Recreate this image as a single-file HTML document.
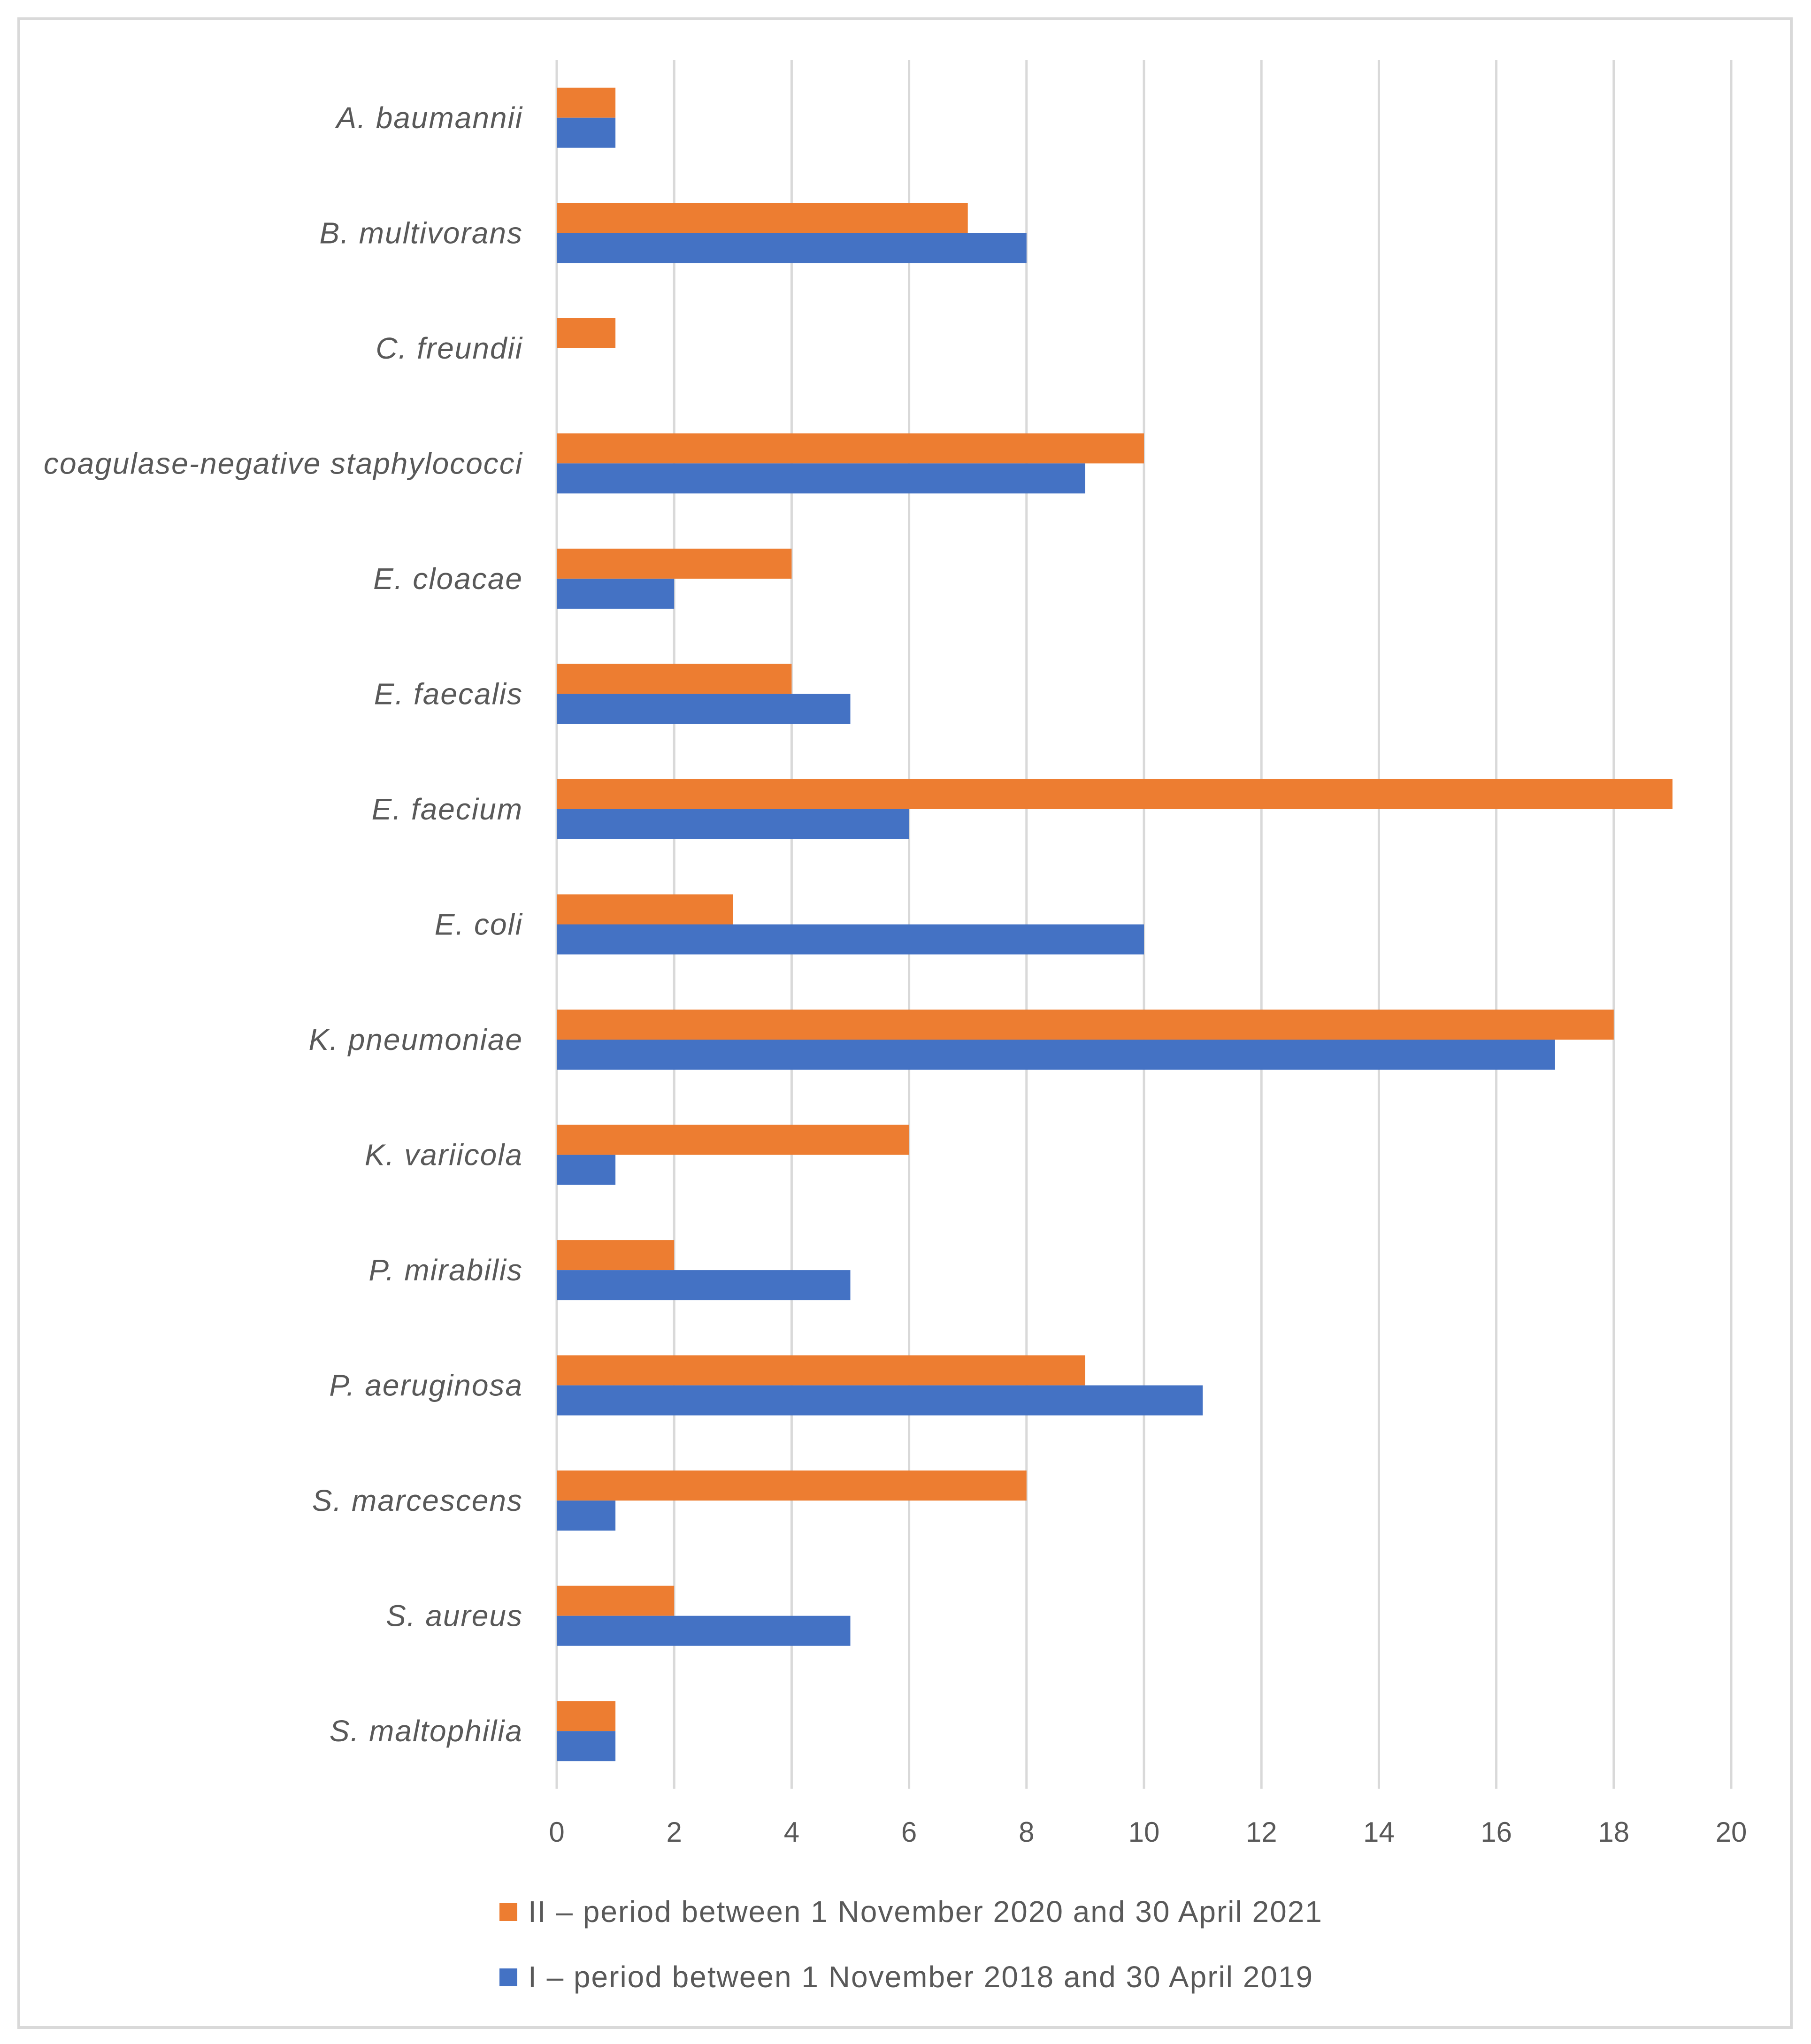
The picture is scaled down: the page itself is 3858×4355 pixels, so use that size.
<!DOCTYPE html>
<html><head><meta charset="utf-8"><style>
html,body{margin:0;padding:0;background:#fff;}
svg{display:block;font-family:"Liberation Sans",sans-serif;}
</style></head><body>
<svg id="chart" width="3858" height="4355" viewBox="0 0 3858 4355" xmlns="http://www.w3.org/2000/svg">
<rect x="40" y="40" width="3776" height="4280" fill="#fff" stroke="#d9d9d9" stroke-width="6"/>
<g id="grid"></g><g id="bars"></g><g id="ylabels"></g><g id="xlabels"></g>
<g>
<rect x="1064" y="4055" width="38" height="38" fill="#ED7D31"/>
<text x="1125" y="4095" font-size="64" letter-spacing="2" fill="#595959">II – period between 1 November 2020 and 30 April 2021</text>
<rect x="1064" y="4194" width="38" height="38" fill="#4472C4"/>
<text x="1125" y="4234" font-size="64" letter-spacing="2" fill="#595959">I – period between 1 November 2018 and 30 April 2019</text>
</g>
</svg>
<script>
const categories=["A. baumannii","B. multivorans","C. freundii","coagulase-negative staphylococci","E. cloacae","E. faecalis","E. faecium","E. coli","K. pneumoniae","K. variicola","P. mirabilis","P. aeruginosa","S. marcescens","S. aureus","S. maltophilia"];
const periodII=[1,7,1,10,4,4,19,3,18,6,2,9,8,2,1];
const periodI=[1,8,0,9,2,5,6,10,17,1,5,11,1,5,1];
const xTicks=[0,2,4,6,8,10,12,14,16,18,20];
const NS="http://www.w3.org/2000/svg";
const x0=1186,x1=3688,yTop=128,yBot=3811,xMax=20;
const band=(yBot-yTop)/categories.length,bh=64;
const X=v=>x0+(x1-x0)*v/xMax;
const Yc=i=>yTop+band*(i+0.5);
function mk(tag,attrs,parent){const e=document.createElementNS(NS,tag);for(const k in attrs)e.setAttribute(k,attrs[k]);document.getElementById(parent).appendChild(e);return e;}
xTicks.forEach(t=>{
 const l=mk("line",{x1:X(t),x2:X(t),y1:yTop,y2:yBot,stroke:"#d9d9d9","stroke-width":5},"grid");
 
 
 const tx=mk("text",{x:X(t),y:3924,"font-size":60,fill:"#595959","text-anchor":"middle"},"xlabels");
 tx.textContent=t;
 
 
});
categories.forEach((c,i)=>{
 const cy=Yc(i);
 const o=mk("rect",{x:X(0),y:cy-bh,width:X(periodII[i])-X(0),height:bh,fill:"#ED7D31"},"bars");
 
 
 const b=mk("rect",{x:X(0),y:cy,width:X(periodI[i])-X(0),height:bh,fill:"#4472C4"},"bars");
 
 
 const t=mk("text",{x:1114,y:cy+22,"font-size":64,"letter-spacing":2,"font-style":"italic",fill:"#595959","text-anchor":"end"},"ylabels");
 t.textContent=c;
 
 
});
</script>
</body></html>
